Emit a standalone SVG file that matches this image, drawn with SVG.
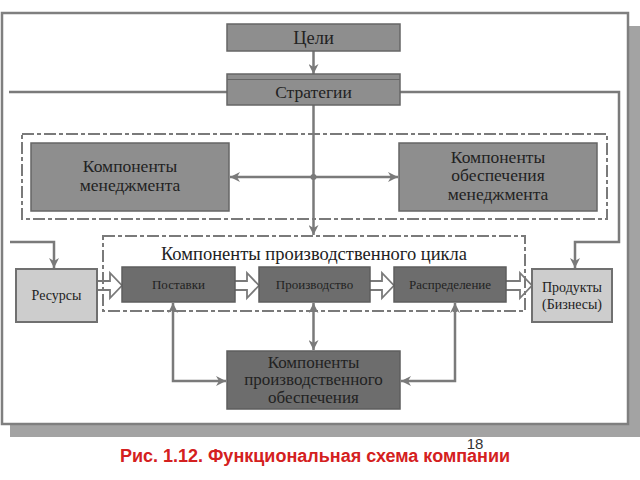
<svg xmlns="http://www.w3.org/2000/svg" width="640" height="480" viewBox="0 0 640 480">
<defs>
<style>
.t{font-family:"Liberation Serif","Times New Roman",serif;fill:#222;text-anchor:middle}
.ln{fill:none;stroke:#7a7a7a;stroke-width:2.5}
.dash{fill:none;stroke:#7a7a7a;stroke-width:2;stroke-dasharray:12 3 4 3}
.mid{fill:#8e8e8e;stroke:#666;stroke-width:1.5}
.dark{fill:#6d6d6d;stroke:#5e5e5e;stroke-width:1.5}
.light{fill:#cdcdcd;stroke:#707070;stroke-width:2}
.hol{fill:#fff;stroke:#7a7a7a;stroke-width:1.8}
</style>
<marker id="ah" viewBox="0 0 10 10" refX="10" refY="5" markerWidth="10" markerHeight="10" markerUnits="userSpaceOnUse" orient="auto-start-reverse">
<path d="M0,0 L10,5 L0,10 L3,5 Z" fill="#7a7a7a"/>
</marker>
</defs>
<rect width="640" height="480" fill="#fff"/>
<!-- shadow -->
<rect x="629" y="26" width="11" height="411" fill="#a3a3a3"/>
<rect x="10" y="425" width="630" height="12" fill="#a3a3a3"/>
<rect x="2" y="13" width="626" height="411" fill="#fff" stroke="#7f7f7f" stroke-width="2.5"/>

<g id="connectors">
<line class="ln" x1="313.5" y1="51" x2="313.5" y2="74" marker-end="url(#ah)"/>
<line class="ln" x1="227" y1="92" x2="9" y2="92"/>
<polyline class="ln" points="10,242 54,242 54,268" marker-end="url(#ah)"/>
<polyline class="ln" points="400,92 619,92 619,242 575,242 575,268" marker-end="url(#ah)"/>
<line class="ln" x1="313.5" y1="105" x2="313.5" y2="235" marker-end="url(#ah)"/>
<line class="ln" x1="230" y1="177" x2="398" y2="177" marker-start="url(#ah)" marker-end="url(#ah)"/>
<circle cx="313.5" cy="177" r="3" fill="#7a7a7a"/>
<line class="ln" x1="313.5" y1="303" x2="313.5" y2="350" marker-start="url(#ah)" marker-end="url(#ah)"/>
<polyline class="ln" points="173,303 173,381 226,381" marker-start="url(#ah)" marker-end="url(#ah)"/>
<polyline class="ln" points="455,303 455,381 401,381" marker-start="url(#ah)" marker-end="url(#ah)"/>
<path class="hol" d="M97,281 H110 V273 L122,285.5 L110,298 V290 H97"/>
<path class="hol" d="M235,281 H247 V273 L259,285.5 L247,298 V290 H235"/>
<path class="hol" d="M370,281 H382 V273 L394,285.5 L382,298 V290 H370"/>
<path class="hol" d="M506,281 H520 V273 L532,285.5 L520,298 V290 H506"/>
</g>

<g id="mgmt-group">
<rect class="dash" x="22" y="134" width="585" height="85"/>
</g>
<g id="cycle-group">
<rect class="dash" x="103" y="236" width="422" height="75"/>
<text class="t" x="314" y="260" font-size="18.5">Компоненты производственного цикла</text>
</g>

<g id="goals">
<rect class="mid" x="227" y="24" width="173" height="27"/>
<text class="t" x="313.5" y="43.5" font-size="18.5">Цели</text>
</g>
<g id="strategies">
<rect class="mid" x="227" y="74" width="173" height="31"/>
<line x1="227" y1="79.5" x2="400" y2="79.5" stroke="#666" stroke-width="1.2"/>
<text class="t" x="313.5" y="97.5" font-size="17.5">Стратегии</text>
</g>
<g id="mgmt">
<rect class="mid" x="31" y="143" width="198" height="68"/>
<text class="t" x="130" y="172" font-size="17.5">Компоненты</text>
<text class="t" x="130" y="191" font-size="17.5">менеджмента</text>
</g>
<g id="mgmt-support">
<rect class="mid" x="399" y="143" width="198" height="68"/>
<text class="t" x="498" y="162.5" font-size="17.5">Компоненты</text>
<text class="t" x="498" y="181" font-size="17.5">обеспечения</text>
<text class="t" x="498" y="199.5" font-size="17.5">менеджмента</text>
</g>
<g id="resources">
<rect class="light" x="16" y="269" width="81" height="53"/>
<text class="t" x="56.5" y="300" font-size="14">Ресурсы</text>
</g>
<g id="supply">
<rect class="dark" x="122" y="267" width="113" height="35"/>
<text class="t" x="178.5" y="289" font-size="13">Поставки</text>
</g>
<g id="production">
<rect class="dark" x="259" y="267" width="111" height="35"/>
<text class="t" x="314.5" y="289" font-size="13">Производство</text>
</g>
<g id="distribution">
<rect class="dark" x="394" y="267" width="112" height="35"/>
<text class="t" x="450" y="289" font-size="13">Распределение</text>
</g>
<g id="products">
<rect class="light" x="532" y="269" width="80" height="53"/>
<text class="t" x="572" y="292" font-size="14">Продукты</text>
<text class="t" x="572" y="309" font-size="14">(Бизнесы)</text>
</g>
<g id="prod-support">
<rect class="dark" x="227" y="351" width="173" height="58"/>
<text class="t" x="313.5" y="367.5" font-size="17">Компоненты</text>
<text class="t" x="313.5" y="385" font-size="17">производственного</text>
<text class="t" x="313.5" y="402.5" font-size="17">обеспечения</text>
</g>

<text x="475" y="449" font-family="Liberation Sans,Arial,sans-serif" font-size="15" fill="#333" text-anchor="middle">18</text>
<text x="315" y="462" font-family="Liberation Sans,Arial,sans-serif" font-size="18" font-weight="bold" fill="#d42020" text-anchor="middle">Рис. 1.12. Функциональная схема компании</text>
</svg>
